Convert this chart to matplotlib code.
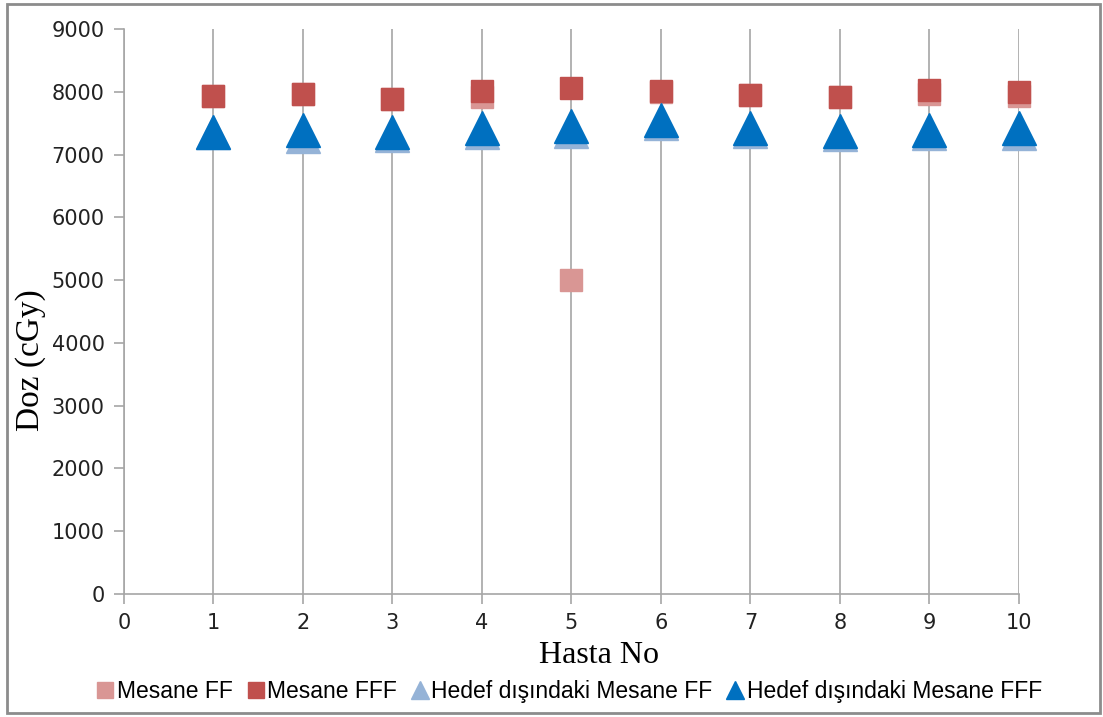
import matplotlib.pyplot as plt
from matplotlib.lines import Line2D
from matplotlib.patches import Rectangle

# Hasta numaralari ve doz degerleri (cGy)
hasta = [1, 2, 3, 4, 5, 6, 7, 8, 9, 10]
mesane_ff = [7930, 7970, 7890, 7915, 5000, 8000, 7950, 7917, 7970, 7940]
mesane_fff = [7930, 7962, 7890, 8010, 8060, 8005, 7950, 7917, 8035, 7994]
hedef_disi_ff = [7365, 7300, 7310, 7360, 7370, 7500, 7370, 7335, 7340, 7345]
hedef_disi_fff = [7365, 7394, 7362, 7423, 7460, 7543, 7423, 7378, 7394, 7415]

x_ticks = list(range(0, 11))
y_ticks = list(range(0, 9001, 1000))

fig = plt.figure(figsize=(11.03, 7.17), dpi=100)
ax = fig.add_axes([0.1124, 0.1715, 0.8114, 0.7881])

grid_c = '#a6a6a6'
ax.plot(hasta, mesane_ff, 's', color='#d99694', markersize=15.6, label='Mesane FF',
        zorder=3, clip_on=False)
ax.plot(hasta, mesane_fff, 's', color='#c0504d', markersize=15.6, label='Mesane FFF',
        zorder=4, clip_on=False)
ax.plot(hasta, hedef_disi_ff, '^', color='#95b3d7', markersize=24,
        label='Hedef dışındaki Mesane FF', zorder=3, clip_on=False)
ax.plot(hasta, hedef_disi_fff, '^', color='#0070c0', markersize=24,
        label='Hedef dışındaki Mesane FFF', zorder=4, clip_on=False)

ax.set_xlim(0, 10)
ax.set_ylim(0, 9000)
ax.set_xticks(x_ticks)
ax.set_yticks(y_ticks)
ax.grid(axis='x', color=grid_c, linewidth=1.2)
ax.set_axisbelow(True)
for side in ['top', 'right']:
    ax.spines[side].set_visible(False)
for side in ['left', 'bottom']:
    ax.spines[side].set_color(grid_c)
    ax.spines[side].set_linewidth(1.2)
ax.tick_params(direction='out', length=7, color=grid_c, width=1.2,
               labelsize=15, labelcolor='#222222', pad=7)
for t in ax.get_xticklabels() + ax.get_yticklabels():
    t.set_family('DejaVu Sans')

ax.set_xlabel('Hasta No', fontsize=23, family='Liberation Serif')
ax.set_ylabel('Doz (cGy)', fontsize=24, family='Liberation Serif')
ax.xaxis.label.set_va('center')
ax.yaxis.label.set_va('center')
ax.xaxis.set_label_coords(0.531, -0.108)
ax.yaxis.set_label_coords(-0.104, 0.414)

handles = [
    Line2D([], [], marker='s', ls='none', color='#d99694', markersize=11),
    Line2D([], [], marker='s', ls='none', color='#c0504d', markersize=11),
    Line2D([], [], marker='^', ls='none', color='#95b3d7', markersize=13),
    Line2D([], [], marker='^', ls='none', color='#0070c0', markersize=13),
]
labels = ['Mesane FF', 'Mesane FFF', 'Hedef dışındaki Mesane FF', 'Hedef dışındaki Mesane FFF']
fig.legend(handles, labels, loc='center', bbox_to_anchor=(0.517, 0.035), ncol=4,
           frameon=False, handlelength=0.6, handletextpad=0.2, columnspacing=0.7,
           prop={'family': 'Liberation Sans', 'size': 16.5})

# cerceve
fig.patches.append(Rectangle((0.006, 0.006), 0.991, 0.988, transform=fig.transFigure,
                             fill=False, edgecolor='#8c8c8c', linewidth=2))

fig.savefig('out.png', dpi=100)
